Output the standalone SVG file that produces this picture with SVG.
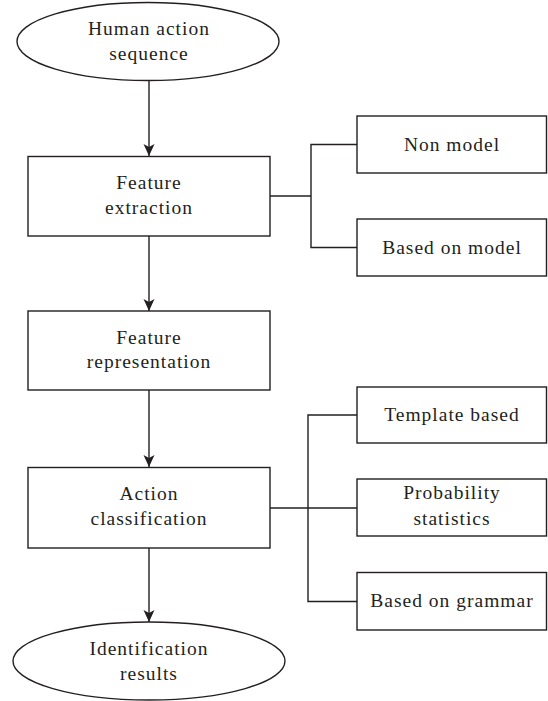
<svg xmlns="http://www.w3.org/2000/svg" width="548" height="701" viewBox="0 0 548 701">
<defs>
<marker id="arr" markerUnits="userSpaceOnUse" markerWidth="12" markerHeight="14" viewBox="0 0 12 14" refX="12" refY="6" orient="auto">
<path d="M0,0.5 L12,6 L0,11.5 L3,6 Z" fill="#231f20"/>
</marker>
<style>
.s{fill:#fff;stroke:#231f20;stroke-width:1.4}
.c{fill:none;stroke:#231f20;stroke-width:1.4}
.t{font-family:"Liberation Serif","Times New Roman",serif;font-size:19.5px;letter-spacing:1px;fill:#231f20;text-anchor:middle}
</style>
</defs>
<rect width="548" height="701" fill="#fff"/>
<g id="connectors">
<line class="c" x1="149" y1="81" x2="149" y2="156" marker-end="url(#arr)"/>
<line class="c" x1="149" y1="236" x2="149" y2="311" marker-end="url(#arr)"/>
<line class="c" x1="149" y1="390" x2="149" y2="467" marker-end="url(#arr)"/>
<line class="c" x1="149" y1="548" x2="149" y2="622" marker-end="url(#arr)"/>
<polyline class="c" points="270,196 311,196"/>
<polyline class="c" points="357,144.5 311,144.5 311,247.5 357,247.5"/>
<polyline class="c" points="270,508 357,508"/>
<polyline class="c" points="357,415 308,415 308,601.5 357,601.5"/>
</g>
<g id="n1"><ellipse class="s" cx="148" cy="41.5" rx="131" ry="39"/><text class="t" x="149" y="35">Human action</text><text class="t" x="149" y="59.5">sequence</text></g>
<g id="n2"><rect class="s" x="28" y="156.5" width="242" height="79.5"/><text class="t" x="149" y="189">Feature</text><text class="t" x="149" y="213.5">extraction</text></g>
<g id="n3"><rect class="s" x="357" y="116" width="189.5" height="57"/><text class="t" x="452" y="150.5">Non model</text></g>
<g id="n4"><rect class="s" x="357" y="219" width="189.5" height="57"/><text class="t" x="452" y="253.5">Based on model</text></g>
<g id="n5"><rect class="s" x="28" y="311" width="242" height="79"/><text class="t" x="149" y="343.5">Feature</text><text class="t" x="149" y="368">representation</text></g>
<g id="n6"><rect class="s" x="357" y="387" width="189.5" height="56"/><text class="t" x="452" y="420.5">Template based</text></g>
<g id="n7"><rect class="s" x="28" y="467.5" width="242" height="80.5"/><text class="t" x="149" y="500">Action</text><text class="t" x="149" y="525">classification</text></g>
<g id="n8"><rect class="s" x="357" y="479" width="189.5" height="57"/><text class="t" x="452" y="498.5">Probability</text><text class="t" x="452" y="525">statistics</text></g>
<g id="n9"><rect class="s" x="357" y="572.5" width="189.5" height="57.5"/><text class="t" x="452" y="607">Based on grammar</text></g>
<g id="n10"><ellipse class="s" cx="149" cy="661" rx="136" ry="39"/><text class="t" x="149" y="655">Identification</text><text class="t" x="149" y="680">results</text></g>
</svg>
